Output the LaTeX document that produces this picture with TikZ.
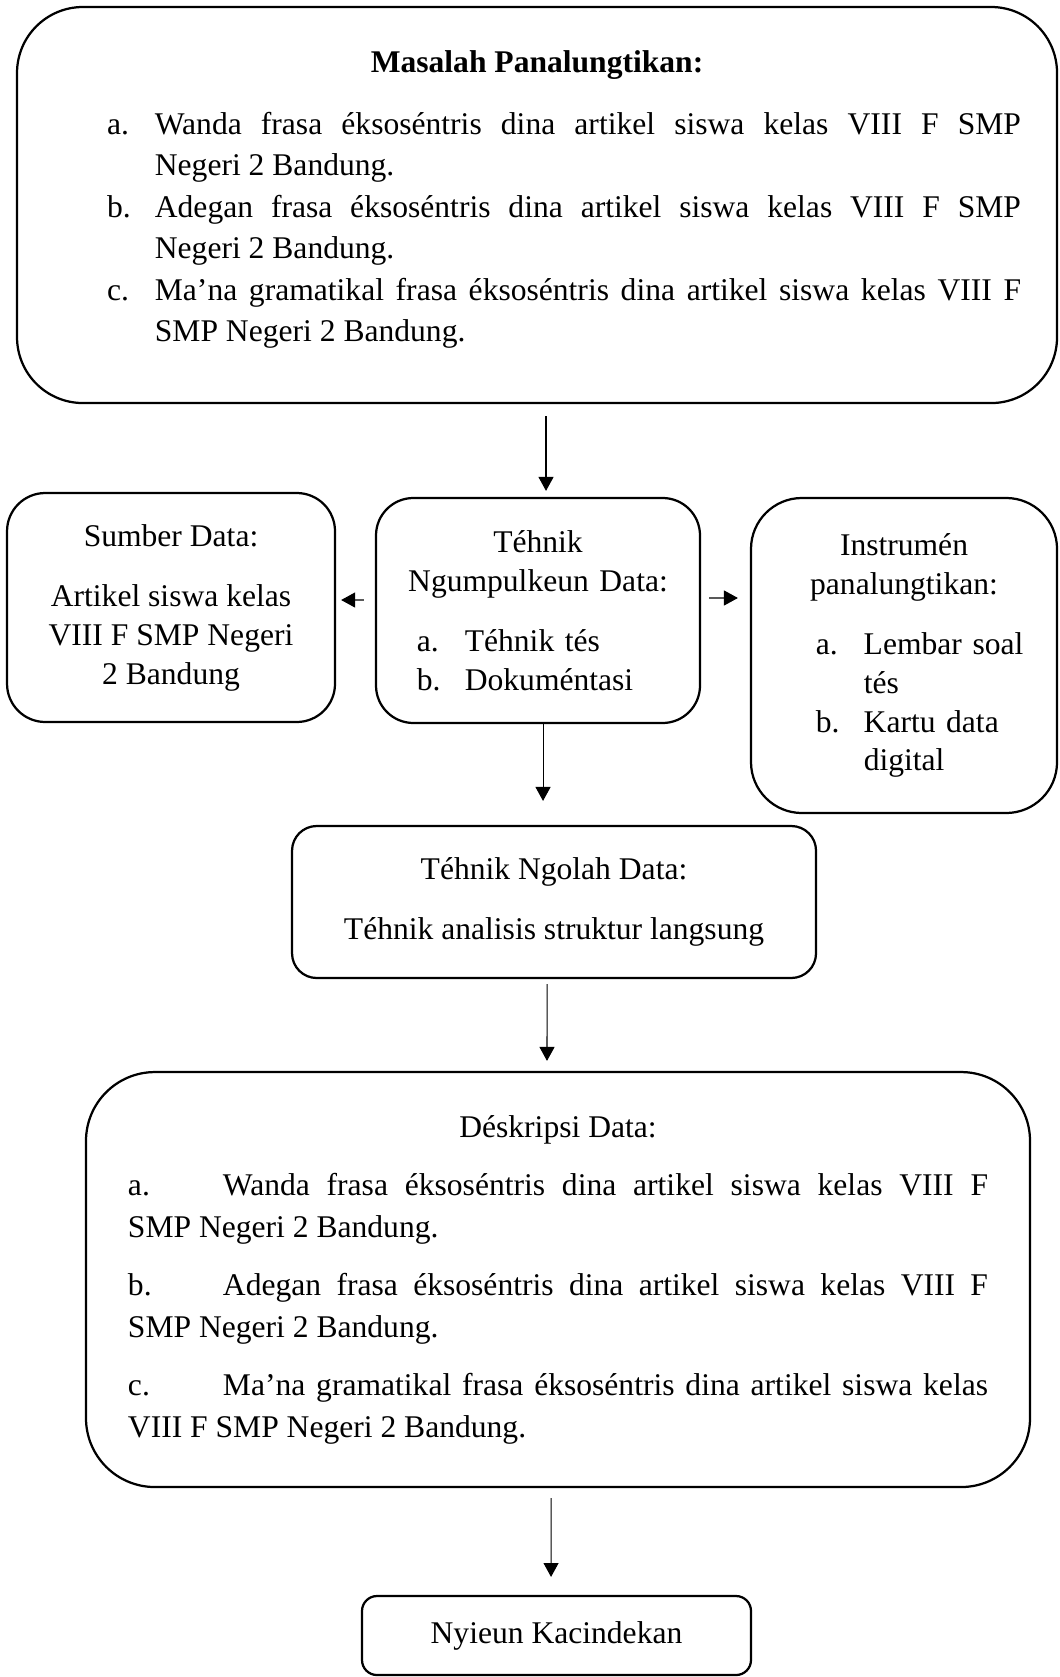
\documentclass[tikz,border=0pt]{standalone}
\usepackage{fontspec}
\setmainfont{Liberation Serif}
\usetikzlibrary{arrows.meta}

\newcommand{\butir}[2]{\par\hangindent=18.2pt\hangafter=1\noindent\makebox[18.2pt][l]{#1}#2}
\newcommand{\paragrafi}[2]{\par\vspace{6pt}\noindent\makebox[36.1pt][l]{#1}#2}

\begin{document}
\begin{tikzpicture}[
        kotak/.style={draw, line width=0.85pt, inner sep=0pt, font=\fontsize{12pt}{14.8pt}\selectfont},
        panah/.style={-{Triangle[width=5.7pt,length=5.3pt]}, line width=0.4pt}]
        \useasboundingbox (0,0) rectangle (14.143,-22.396);
        \node[kotak, rounded corners=0.88cm, minimum width=13.889cm, minimum height=5.289cm, text width=367.8pt, align=justify,
          font=\fontsize{12pt}{15.8pt}\selectfont] (masalah) at (7.172,-2.738) {%
          {\centering\bfseries Masalah Panalungtikan:\par}
          \vspace{7.5pt}\leftskip=20.5pt
          \butir{a.}{Wanda frasa éksoséntris dina artikel siswa kelas VIII F SMP\linebreak Negeri 2 Bandung.}
          \butir{b.}{Adegan frasa éksoséntris dina artikel siswa kelas VIII F SMP\linebreak Negeri 2 Bandung.}
          \butir{c.}{Ma’na gramatikal frasa éksoséntris dina artikel siswa kelas VIII F\linebreak SMP Negeri 2 Bandung.}\par
          \nointerlineskip\vspace{4pt}\hbox{}};
        \node[kotak, rounded corners=0.51cm, minimum width=4.38cm, minimum height=3.058cm, align=center] (sumber) at (2.284,-8.113)
          {Sumber Data:\\[8pt]Artikel siswa kelas\\VIII F SMP Negeri\\2 Bandung};
        \node[kotak, rounded corners=0.5cm, minimum width=4.327cm, minimum height=3.005cm, text width=102.6pt] (teknik) at (7.185,-8.153) {%
          {\centering Téhnik\\Ngumpulkeun Data:\par}
          \vspace{8pt}\leftskip=5.3pt
          \butir{a.}{Téhnik tés}
          \butir{b.}{Dokuméntasi}\par};
        \node[kotak, rounded corners=0.68cm, minimum width=4.087cm, minimum height=4.207cm, text width=95pt] (instrumen) at (12.073,-8.754) {%
          {\centering Instrumén\\panalungtikan:\par}
          \vspace{8pt}\leftskip=14pt
          \butir{a.}{Lembar soal\linebreak tés}
          \butir{b.}{Kartu data\linebreak digital}\par};
        \node[kotak, rounded corners=0.33cm, minimum width=6.998cm, minimum height=2.03cm, align=center] (ngolah) at (7.399,-12.046)
          {Téhnik Ngolah Data:\\[8pt]Téhnik analisis struktur langsung};
        \node[kotak, rounded corners=0.92cm, minimum width=12.607cm, minimum height=5.542cm, text width=326.8pt, align=justify,
          font=\fontsize{12pt}{16pt}\selectfont] (deskripsi) at (7.452,-17.088) {%
          {\centering Déskripsi Data:\par}
          \paragrafi{a.}{Wanda frasa éksoséntris dina artikel siswa kelas VIII F\linebreak SMP Negeri 2 Bandung.}
          \paragrafi{b.}{Adegan frasa éksoséntris dina artikel siswa kelas VIII F\linebreak SMP Negeri 2 Bandung.}
          \paragrafi{c.}{Ma’na gramatikal frasa éksoséntris dina artikel siswa kelas\linebreak VIII F SMP Negeri 2 Bandung.}\par};
        \node[kotak, rounded corners=0.2cm, minimum width=5.195cm, minimum height=1.055cm] (nyieun) at (7.432,-21.842) {Nyieun Kacindekan};

        \draw[panah, shorten <=0.16cm, shorten >=0.08cm] ([xshift=0.12cm]masalah.south) -- ([xshift=0.107cm]teknik.north);
        \draw[panah, shorten <=0.147cm, shorten >=0.067cm] ([yshift=0.14cm]teknik.west) -- ([yshift=0.1cm]sumber.east);
        \draw[panah, shorten <=0.107cm, shorten >=0.16cm] ([yshift=0.167cm]teknik.east) -- ([yshift=0.768cm]instrumen.west);
        \draw[panah, shorten >=0.32cm] ([xshift=0.067cm]teknik.south) -- ([xshift=-0.147cm]ngolah.north);
        \draw[panah, shorten <=0.067cm, shorten >=0.134cm] ([xshift=-0.093cm]ngolah.south) -- ([xshift=-0.147cm]deskripsi.north);
        \draw[panah, shorten <=0.134cm, shorten >=0.24cm] ([xshift=-0.093cm]deskripsi.south) -- ([xshift=-0.073cm]nyieun.north);
      \end{tikzpicture}
\end{document}
